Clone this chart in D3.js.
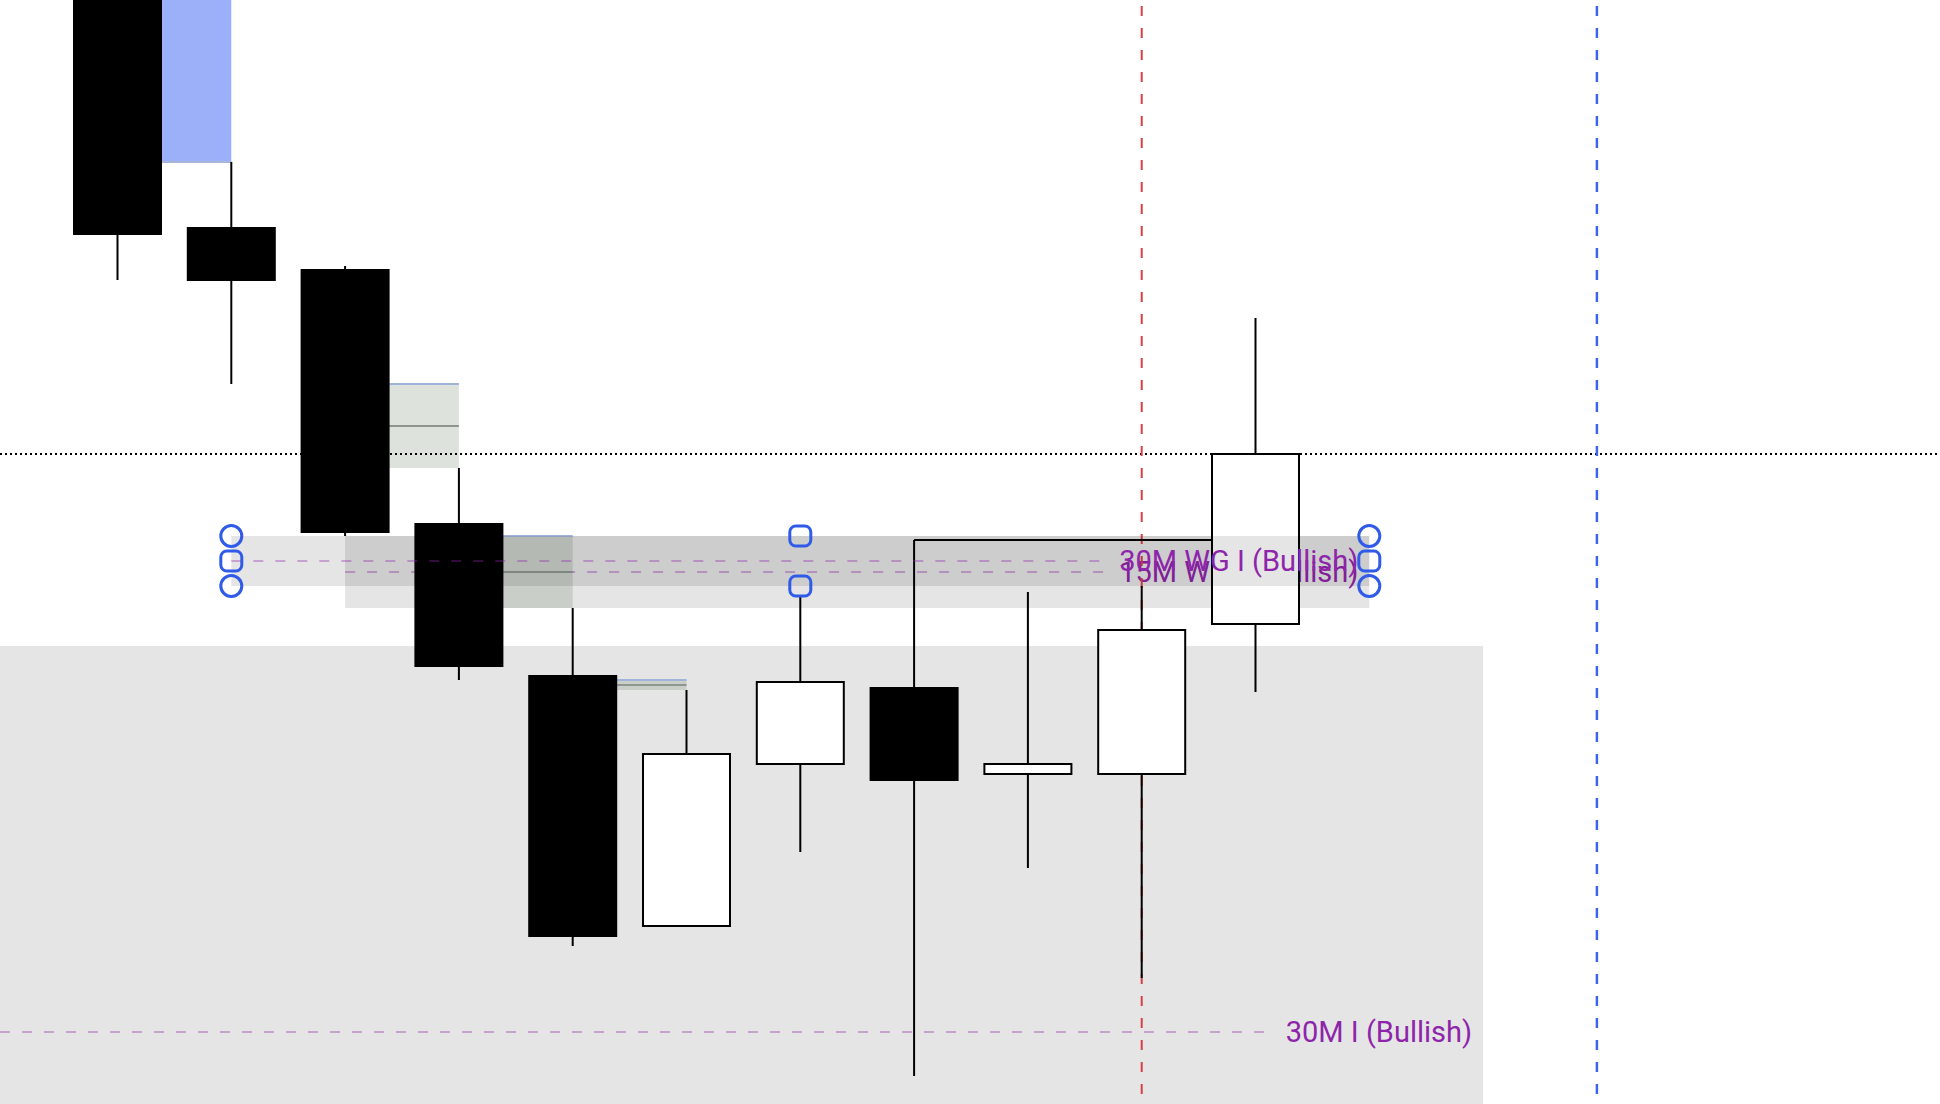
<!DOCTYPE html>
<html>
<head>
<meta charset="utf-8">
<script src="https://cdn.jsdelivr.net/npm/d3@7"></script>
<style>
  body { margin: 0; background: #fff; overflow: hidden; }
  svg { display: block; background: #fff; }
  .zone-label { font-family: Roboto, "Noto Sans", sans-serif; font-size: 29px; fill: #8e24aa; }
</style>
</head>
<body>
<div id="chart"></div>
<script>
// Candles: bar index and OHLC
const bars   = [0, 1, 2, 3, 4, 5, 6, 7, 8, 9, 10, 11];
const opens  = [20190, 20148, 20109.5, 20104.25, 20072.5, 20053.5, 20022.25, 20042.5, 20052, 20041.25, 20041.25, 20060];
const highs  = [20192, 20150, 20117.75, 20104.75, 20079.5, 20062, 20051.75, 20063.5, 20070.5, 20064, 20064.75, 20098.25];
const lows   = [20164, 20103, 20090, 20071, 20053, 20019.75, 20022.25, 20031.5, 20003.5, 20029.5, 20015.75, 20051.5];
const closes = [20166, 20108.75, 20103, 20071.5, 20054.75, 20021, 20043.75, 20052.75, 20040.5, 20042.5, 20059.25, 20081.25];

// Fair value gaps: bar where the gap closes (gap = low two bars back .. high of this bar)
const fvgBars      = [2, 4, 5, 6];
const fvgHighlight = [true, false, false, false];

// Zones
const zoneNames  = ['30M I (Bullish)', '15M WG I (Bullish)', '30M WG I (Bullish)'];
const zoneFrom   = [-1, 3, 2];
const zoneTo     = [13, 12, 12];
const zoneTop    = [20057.25, 20071, 20071];
const zoneBottom = [19960.75, 20062, 20064.75];

// Zone handles (selected zone)
const handleBars   = [2, 2, 2, 7, 7, 12, 12, 12];
const handleLevels = ['top', 'mid', 'bottom', 'top', 'bottom', 'top', 'mid', 'bottom'];
const handleShapes = ['circle', 'square', 'circle', 'square', 'square', 'circle', 'square', 'circle'];

// Markers
const liquidityFrom = 8, liquidityTo = 11;
const redLineBar = 10, blueLineBar = 14;

const width = 1940, height = 1104;
const svg = d3.select('#chart').append('svg')
    .attr('width', width)
    .attr('height', height);

const x = d3.scaleLinear().domain([0, 17]).range([3.7, 3.7 + 17 * 113.8]);
const y = d3.scaleLinear().domain([20138, 20000]).range([0, height]);
const bodyW = 87;

const candles = bars.map((b, i) => ({bar: b, open: opens[i], high: highs[i], low: lows[i], close: closes[i]}));
const zones = zoneNames.map((name, i) => ({name, from: zoneFrom[i], to: zoneTo[i], top: zoneTop[i], bottom: zoneBottom[i]}));

function drawZone(g, z) {
    const x0 = x(z.from), x1 = x(z.to);
    const mid = (z.top + z.bottom) / 2;
    g.append('rect')
        .attr('x', x0).attr('y', y(z.top))
        .attr('width', x1 - x0).attr('height', y(z.bottom) - y(z.top))
        .attr('fill', 'rgba(0,0,0,0.1)');
    const line = g.append('line');
    const label = g.append('text')
        .attr('class', 'zone-label')
        .attr('x', x1 - 11)
        .attr('y', y(mid) + 10)
        .attr('text-anchor', 'end')
        .text(z.name);
    const textStart = x1 - 11 - label.node().getComputedTextLength();
    line.attr('x1', Math.max(x0, 0)).attr('x2', textStart - 12)
        .attr('y1', y(mid)).attr('y2', y(mid))
        .attr('stroke', '#8e24aa').attr('stroke-opacity', 0.35)
        .attr('stroke-width', 2).attr('stroke-dasharray', '10,12');
}

// lower layer zones
const under = svg.append('g');
drawZone(under, zones[0]);
drawZone(under, zones[1]);

// fair value gaps
const fvg = svg.append('g');
fvgBars.forEach((b, k) => {
    const top = lows[bars.indexOf(b - 2)], bottom = highs[bars.indexOf(b)];
    const x0 = x(b - 1), x1 = x(b);
    if (fvgHighlight[k]) {
        fvg.append('rect')
            .attr('x', x0).attr('y', y(top))
            .attr('width', x1 - x0).attr('height', y(bottom) - y(top))
            .attr('fill', '#9bb0f8');
        fvg.append('line')
            .attr('x1', x0).attr('x2', x1).attr('y1', y(bottom)).attr('y2', y(bottom))
            .attr('stroke', '#a9b6d8').attr('stroke-width', 2);
    } else {
        fvg.append('rect')
            .attr('x', x0).attr('y', y(top))
            .attr('width', x1 - x0).attr('height', y(bottom) - y(top))
            .attr('fill', 'rgba(120,140,120,0.25)');
        fvg.append('line')
            .attr('x1', x0).attr('x2', x1).attr('y1', y(top)).attr('y2', y(top))
            .attr('stroke', '#a2b3da').attr('stroke-width', 2);
        fvg.append('line')
            .attr('x1', x0).attr('x2', x1)
            .attr('y1', y((top + bottom) / 2)).attr('y2', y((top + bottom) / 2))
            .attr('stroke', '#8f968f').attr('stroke-width', 2);
    }
});

// vertical markers and last price line
svg.append('line')
    .attr('x1', 0).attr('x2', width)
    .attr('y1', y(closes[closes.length - 1])).attr('y2', y(closes[closes.length - 1]))
    .attr('stroke', '#000').attr('stroke-width', 2).attr('stroke-dasharray', '2,3');
svg.append('line')
    .attr('x1', x(redLineBar)).attr('x2', x(redLineBar))
    .attr('y1', 0).attr('y2', height)
    .attr('stroke', '#d64045').attr('stroke-width', 2)
    .attr('stroke-dasharray', '10,12').attr('stroke-dashoffset', 16);
svg.append('line')
    .attr('x1', x(blueLineBar)).attr('x2', x(blueLineBar))
    .attr('y1', 0).attr('y2', height)
    .attr('stroke', '#3d63f0').attr('stroke-width', 2.5)
    .attr('stroke-dasharray', '10,12').attr('stroke-dashoffset', 16);

// liquidity line from bar 8 high
svg.append('line')
    .attr('x1', x(liquidityFrom)).attr('x2', x(liquidityTo))
    .attr('y1', y(highs[liquidityFrom])).attr('y2', y(highs[liquidityFrom]))
    .attr('stroke', '#000').attr('stroke-width', 2);

// candles
const cg = svg.append('g').selectAll('g')
    .data(candles)
    .enter().append('g');

cg.append('line')
    .attr('x1', d => x(d.bar)).attr('x2', d => x(d.bar))
    .attr('y1', d => y(d.high)).attr('y2', d => y(d.low))
    .attr('stroke', '#000').attr('stroke-width', 2);

cg.append('rect')
    .attr('x', d => x(d.bar) - bodyW / 2)
    .attr('y', d => y(Math.max(d.open, d.close)))
    .attr('width', bodyW)
    .attr('height', d => Math.max(1, Math.abs(y(d.open) - y(d.close))))
    .attr('fill', d => d.close >= d.open ? '#fff' : '#000')
    .attr('stroke', '#000').attr('stroke-width', 2);

// selected zone on top
const over = svg.append('g');
const sel = zones[2];
drawZone(over, sel);

const levelPrice = {top: sel.top, mid: (sel.top + sel.bottom) / 2, bottom: sel.bottom};
handleBars.forEach((b, i) => {
    const cx = x(b), cy = y(levelPrice[handleLevels[i]]);
    if (handleShapes[i] === 'circle') {
        over.append('circle')
            .attr('cx', cx).attr('cy', cy).attr('r', 10.5)
            .attr('fill', 'none').attr('stroke', '#2f5be8').attr('stroke-width', 3);
    } else {
        over.append('rect')
            .attr('x', cx - 10.5).attr('y', cy - 10)
            .attr('width', 21).attr('height', 20).attr('rx', 6)
            .attr('fill', 'none').attr('stroke', '#2f5be8').attr('stroke-width', 3);
    }
});
</script>
</body>
</html>
